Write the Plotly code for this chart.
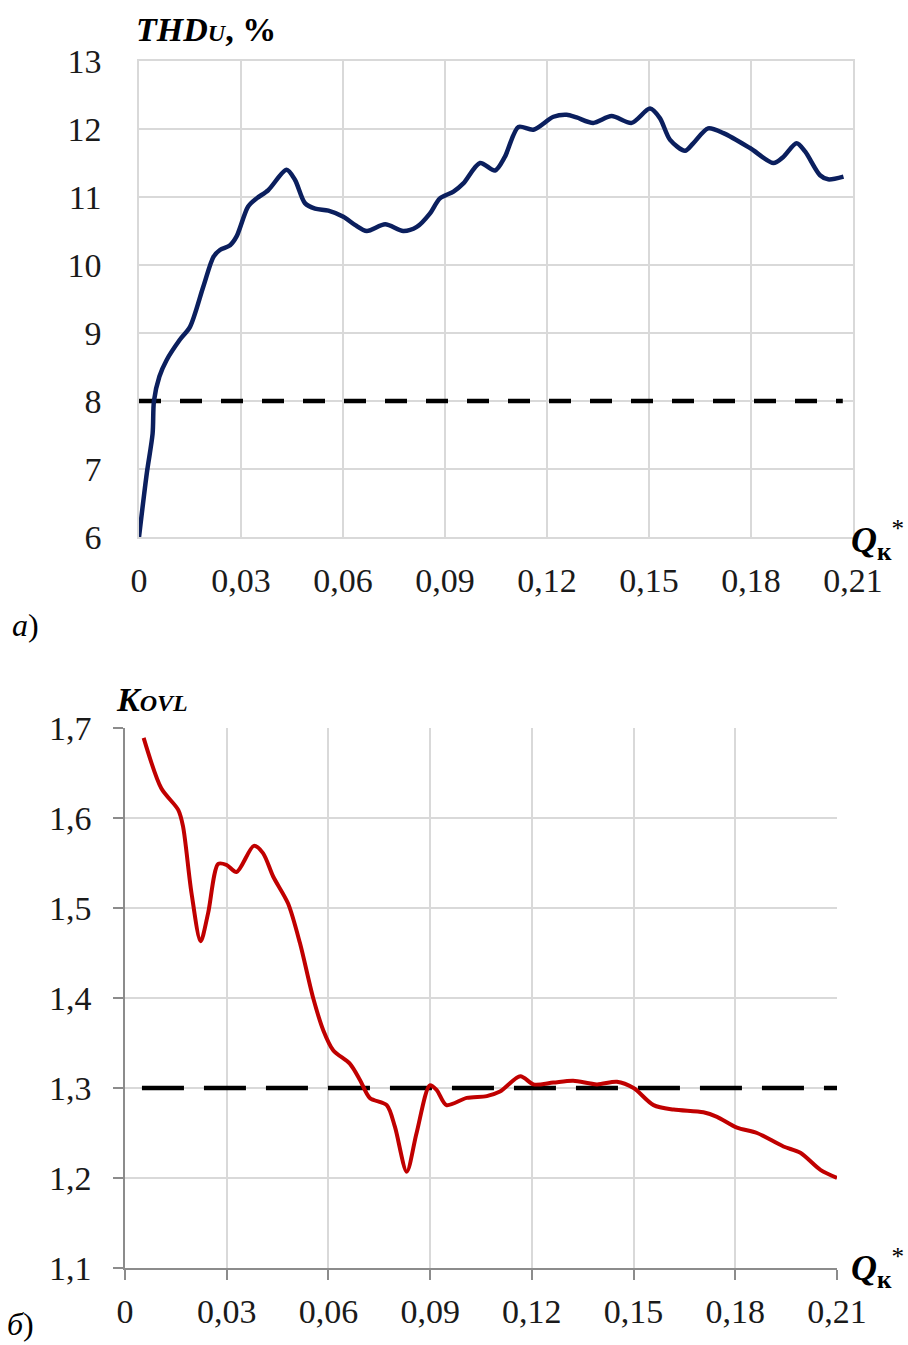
import plotly.graph_objects as go

# ---- data ----
x_ticks = [0, 0.03, 0.06, 0.09, 0.12, 0.15, 0.18, 0.21]
x_ticktext = ["0", "0,03", "0,06", "0,09", "0,12", "0,15", "0,18", "0,21"]

thd_ticks = [6, 7, 8, 9, 10, 11, 12, 13]
thd_ticktext = ["6", "7", "8", "9", "10", "11", "12", "13"]

kovl_ticks = [1.1, 1.2, 1.3, 1.4, 1.5, 1.6, 1.7]
kovl_ticktext = ["1,1", "1,2", "1,3", "1,4", "1,5", "1,6", "1,7"]

thd_x = [0, 0.0023, 0.004, 0.0044, 0.006, 0.0081, 0.012, 0.015, 0.0189, 0.0219,
         0.0238, 0.0268, 0.0287, 0.0321, 0.0346, 0.038, 0.0434, 0.0459, 0.0488,
         0.0518, 0.0557, 0.0601, 0.0635, 0.067, 0.0724, 0.0777, 0.0817, 0.0856,
         0.0885, 0.0925, 0.0954, 0.1003, 0.1047, 0.1076, 0.1116, 0.116, 0.1219,
         0.1258, 0.1287, 0.1336, 0.139, 0.1449, 0.1503, 0.1532, 0.1562, 0.1606,
         0.163, 0.1674, 0.1719, 0.1797, 0.1866, 0.1895, 0.1934, 0.1959, 0.2003,
         0.2027, 0.2072]
thd_y = [6.0, 6.94, 7.52, 8.0, 8.36, 8.6, 8.9, 9.09, 9.68, 10.12,
         10.22, 10.29, 10.42, 10.86, 10.98, 11.10, 11.40, 11.25, 10.91,
         10.83, 10.80, 10.71, 10.59, 10.50, 10.60, 10.50, 10.56, 10.76,
         10.98, 11.08, 11.20, 11.50, 11.39, 11.59, 12.03, 11.99, 12.18,
         12.21, 12.17, 12.09, 12.19, 12.09, 12.30, 12.16, 11.84, 11.68,
         11.79, 12.01, 11.94, 11.72, 11.50, 11.59, 11.79, 11.67, 11.32,
         11.26, 11.30]

thd_limit_x = [0, 0.207]
thd_limit_y = [8, 8]

kovl_x = [0.0055, 0.0107, 0.0157, 0.0171, 0.0196, 0.0223, 0.0245, 0.0275, 0.0299,
          0.0329, 0.038, 0.0407, 0.0437, 0.0481, 0.0516, 0.0555, 0.0585, 0.0614,
          0.0663, 0.0693, 0.0722, 0.0772, 0.0796, 0.0831, 0.086, 0.0899, 0.0919,
          0.0948, 0.1008, 0.1067, 0.1106, 0.1166, 0.1205, 0.1263, 0.1322, 0.1392,
          0.1451, 0.15, 0.1559, 0.1618, 0.1706, 0.1746, 0.1805, 0.1864, 0.1942,
          0.1992, 0.2051, 0.21]
kovl_y = [1.689, 1.633, 1.609, 1.591, 1.517, 1.463, 1.494, 1.549, 1.548,
          1.540, 1.569, 1.561, 1.535, 1.505, 1.461, 1.400, 1.364, 1.342,
          1.327, 1.309, 1.289, 1.281, 1.257, 1.207, 1.250, 1.303, 1.298,
          1.281, 1.289, 1.291, 1.296, 1.313, 1.304, 1.306, 1.308, 1.304,
          1.307, 1.300, 1.281, 1.276, 1.273, 1.268, 1.256, 1.250, 1.235,
          1.228, 1.209, 1.200]

kovl_limit_x = [0.005, 0.21]
kovl_limit_y = [1.3, 1.3]

# ---- figure ----
W, H = 908, 1345
FONT = "Liberation Serif, Times New Roman, serif"
GRID = "#d9d9d9"
TXT = "#1a1a1a"

fig = go.Figure()

fig.add_trace(go.Scatter(x=thd_limit_x, y=thd_limit_y, mode="lines",
                         line=dict(color="black", width=4.5, dash="22px,19px"),
                         xaxis="x", yaxis="y", hoverinfo="skip"))
fig.add_trace(go.Scatter(x=thd_x, y=thd_y, mode="lines",
                         line=dict(color="#0b1f5e", width=4.5, shape="spline", smoothing=0.8),
                         xaxis="x", yaxis="y"))

fig.add_trace(go.Scatter(x=kovl_limit_x, y=kovl_limit_y, mode="lines",
                         line=dict(color="black", width=4.5, dash="42px,20px"),
                         xaxis="x2", yaxis="y2", hoverinfo="skip"))
fig.add_trace(go.Scatter(x=kovl_x, y=kovl_y, mode="lines",
                         line=dict(color="#c00000", width=4, shape="spline", smoothing=0.8),
                         xaxis="x2", yaxis="y2"))

tick_font = dict(family=FONT, size=34, color=TXT)

fig.update_layout(
    width=W, height=H,
    margin=dict(l=0, r=0, t=0, b=0, autoexpand=False),
    paper_bgcolor="white", plot_bgcolor="white",
    showlegend=False,
    font=dict(family=FONT, color=TXT),
    xaxis=dict(domain=[139 / W, 853 / W], anchor="y", range=[0, 0.21],
               tickvals=x_ticks, ticktext=x_ticktext, tickfont=tick_font,
               showgrid=True, gridcolor=GRID, gridwidth=1.5, zeroline=False,
               showline=True, linecolor=GRID, linewidth=1.5, mirror=True,
               ticks="", ticklabelstandoff=12, automargin=False),
    yaxis=dict(domain=[1 - 537 / H, 1 - 61 / H], anchor="x", range=[6, 13],
               tickvals=thd_ticks, ticktext=thd_ticktext, tickfont=tick_font,
               showgrid=True, gridcolor=GRID, gridwidth=1.5, zeroline=False,
               showline=True, linecolor=GRID, linewidth=1.5, mirror=True,
               ticks="", ticklabelstandoff=29, automargin=False),
    xaxis2=dict(domain=[125 / W, 837 / W], anchor="y2", range=[0, 0.21],
                tickvals=x_ticks, ticktext=x_ticktext, tickfont=tick_font,
                showgrid=True, gridcolor=GRID, gridwidth=1.5, zeroline=False,
                showline=True, linecolor="#8c8c8c", linewidth=1.5,
                ticks="outside", ticklen=10, tickcolor="#8c8c8c", tickwidth=1.5,
                ticklabelstandoff=2, automargin=False),
    yaxis2=dict(domain=[1 - 1268 / H, 1 - 728 / H], anchor="x2", range=[1.1, 1.7],
                tickvals=kovl_ticks, ticktext=kovl_ticktext, tickfont=tick_font,
                showgrid=True, gridcolor=GRID, gridwidth=1.5, zeroline=False,
                showline=True, linecolor="#8c8c8c", linewidth=1.5,
                ticks="outside", ticklen=10, tickcolor="#8c8c8c", tickwidth=1.5,
                ticklabelstandoff=15, automargin=False),
)

def px_ann(text, x, y, size, xanchor="left", yanchor="middle"):
    fig.add_annotation(text=text, x=x / W, y=1 - y / H, xref="paper", yref="paper",
                       showarrow=False, xanchor=xanchor, yanchor=yanchor,
                       font=dict(family=FONT, size=size, color="black"))

# axis titles
px_ann("<b><i>THD</i></b><b><i><span style='font-size:24px'>U</span></i></b><b>, %</b>",
       134, 29, 34)
px_ann("<b><i>K</i></b><b><i><span style='font-size:24px'>OVL</span></i></b>",
       114, 699, 34)
px_ann("<b><i>Q</i><sub>к</sub></b><sup>*</sup>", 849, 540, 36)
px_ann("<b><i>Q</i><sub>к</sub></b><sup>*</sup>", 849, 1268, 36)

# panel labels
px_ann("<i>а</i>)", 10, 625, 32)
px_ann("<i>б</i>)", 5, 1324, 32)

fig.write_html("out.html")
